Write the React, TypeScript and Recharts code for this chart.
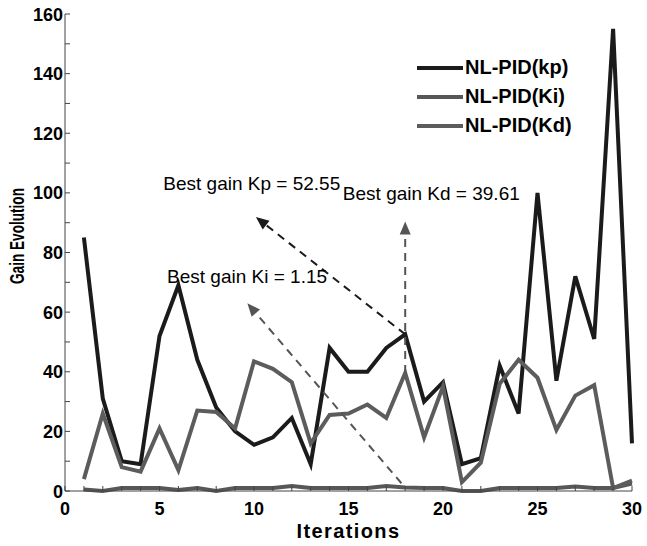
import React from 'react';
import {
  LineChart,
  Line,
  XAxis,
  YAxis,
  Legend,
  ReferenceLine,
  ReferenceDot,
} from 'recharts';

// iteration index (x)
const iterations = [
  1, 2, 3, 4, 5, 6, 7, 8, 9, 10, 11, 12, 13, 14, 15,
  16, 17, 18, 19, 20, 21, 22, 23, 24, 25, 26, 27, 28, 29, 30,
];

// gains
const kpValues = [
  85, 31, 10, 9, 52, 69, 44, 28, 20, 15.5, 18, 24.5, 9, 48, 40,
  40, 48, 52.55, 30, 36.5, 9, 11, 42, 26, 100, 37, 72, 51, 155, 16,
];
const kiValues = [
  0.5, 0, 1, 1, 1, 0.3, 1, 0, 1, 1, 1, 1.7, 1, 1, 1,
  1, 1.7, 1.15, 1, 1, 0, 0, 1, 1, 1, 1, 1.5, 1, 1, 2.5,
];
const kdValues = [
  4, 26, 8, 6.5, 21, 7, 27, 26.5, 21, 43.5, 41, 36.5, 16, 25.5, 26,
  29, 24.5, 39.61, 18, 35, 3, 9.5, 36, 44, 38, 20.5, 32, 35.5, 1, 3.5,
];

const xTicks = Array.from({ length: 31 }, (_, i) => i);
const yTicks = Array.from({ length: 17 }, (_, i) => i * 10);

const SERIES = [
  { key: 'kp', name: 'NL-PID(kp)', color: '#1b1b1b' },
  { key: 'ki', name: 'NL-PID(Ki)', color: '#575757' },
  { key: 'kd', name: 'NL-PID(Kd)', color: '#5c5c5c' },
];

// annotation arrows: from best point to label
const ARROWS = [
  { from: [18, 52.55], to: [10.1, 91.9], color: '#1b1b1b' },
  { from: [17.8, 2.6], to: [9.65, 63], color: '#555555' },
  { from: [18, 39.61], to: [18, 90.4], color: '#555555' },
];

const NOTES = [
  { x: 5.2, y: 101, text: 'Best gain Kp = 52.55' },
  { x: 5.4, y: 69.8, text: 'Best gain Ki = 1.15' },
  { x: 14.7, y: 97.7, text: 'Best gain Kd = 39.61' },
];

const data = iterations.map((it, i) => ({
  it,
  kp: kpValues[i],
  ki: kiValues[i],
  kd: kdValues[i],
}));

const FONT = 'Liberation Sans, Arial, sans-serif';

const BottomTick = ({ x, y, payload }: any) => (
  <g>
    <line x1={x} y1={y} x2={x} y2={y - 5} stroke="#444" />
    {payload.value % 5 === 0 && (
      <text x={x} y={y + 24} textAnchor="middle" fontSize={18} fontWeight="bold" fontFamily={FONT} fill="#000">
        {payload.value}
      </text>
    )}
  </g>
);

const TopTick = ({ x, y }: any) => <line x1={x} y1={y} x2={x} y2={y + 5} stroke="#444" />;

const LeftTick = ({ x, y, payload }: any) => (
  <g>
    <line x1={x} y1={y} x2={x + 5} y2={y} stroke="#444" />
    {payload.value % 20 === 0 && (
      <text x={x - 2} y={y + 6.5} textAnchor="end" fontSize={18} fontWeight="bold" fontFamily={FONT} fill="#000">
        {payload.value}
      </text>
    )}
  </g>
);

const RightTick = ({ x, y }: any) => <line x1={x} y1={y} x2={x - 5} y2={y} stroke="#444" />;

const arrowShape = (color: string) => (p: any) => {
  const { x1, y1, x2, y2 } = p;
  const ang = Math.atan2(y2 - y1, x2 - x1);
  const len = 13;
  const w = 5.5;
  const bx = x2 - len * Math.cos(ang);
  const by = y2 - len * Math.sin(ang);
  const px = -Math.sin(ang) * w;
  const py = Math.cos(ang) * w;
  return (
    <g>
      <line x1={x1} y1={y1} x2={bx} y2={by} stroke={color} strokeWidth={2} strokeDasharray="8 6" />
      <polygon points={`${x2},${y2} ${bx + px},${by + py} ${bx - px},${by - py}`} fill={color} />
    </g>
  );
};

const LegendBox = () => (
  <div style={{ fontFamily: FONT, fontWeight: 'bold', fontSize: 20, color: '#000' }}>
    {SERIES.map((s) => (
      <div key={s.key} style={{ display: 'flex', alignItems: 'center', height: 29 }}>
        <svg width={48} height={10}>
          <line x1={0} y1={5} x2={46} y2={5} stroke={s.color} strokeWidth={4} />
        </svg>
        <span>{s.name}</span>
      </div>
    ))}
  </div>
);

// condensed bold label, as in the source figure
const yLabel = () => (
  <text
    transform="translate(24,236) rotate(-90) scale(0.68,1)"
    textAnchor="middle"
    fontSize={20}
    fontWeight="bold"
    fontFamily={FONT}
    fill="#000"
  >
    Gain Evolution
  </text>
);

export default function App() {
  return (
    <div style={{ position: 'absolute', left: 0, top: 0, background: '#fff' }}>
      <LineChart width={647} height={546} data={data} margin={{ top: 14, right: 15, left: 0, bottom: 0 }}>
        <XAxis
          xAxisId="b"
          dataKey="it"
          type="number"
          domain={[0, 30]}
          ticks={xTicks}
          interval={0}
          height={55}
          tickSize={0}
          tickMargin={0}
          tickLine={false}
          tick={<BottomTick />}
          stroke="#444"
          label={{ value: 'Iterations', position: 'insideBottom', offset: 8, fontSize: 20, fontWeight: 'bold', fontFamily: FONT, fill: '#000', letterSpacing: 1.4 }}
        />
        <XAxis
          xAxisId="t"
          orientation="top"
          type="number"
          domain={[0, 30]}
          ticks={xTicks}
          interval={0}
          height={0}
          tickSize={0}
          tickMargin={0}
          tickLine={false}
          tick={<TopTick />}
          stroke="#444"
        />
        <YAxis
          yAxisId="l"
          type="number"
          domain={[0, 160]}
          ticks={yTicks}
          interval={0}
          width={65}
          tickSize={0}
          tickMargin={0}
          tickLine={false}
          tick={<LeftTick />}
          stroke="#444"
          label={yLabel}
        />
        <YAxis
          yAxisId="r"
          orientation="right"
          type="number"
          domain={[0, 160]}
          ticks={yTicks}
          interval={0}
          width={0}
          tickSize={0}
          tickMargin={0}
          tickLine={false}
          tick={<RightTick />}
          stroke="#444"
        />
        <Legend layout="vertical" align="center" verticalAlign="middle" content={<LegendBox />} wrapperStyle={{ position: 'absolute', left: 417, top: 53, width: 220 }} />

        {SERIES.map((s) => (
          <Line
            key={s.key}
            xAxisId="b"
            yAxisId="l"
            type="linear"
            dataKey={s.key}
            name={s.name}
            stroke={s.color}
            strokeWidth={4}
            dot={false}
            isAnimationActive={false}
          />
        ))}

        {ARROWS.map((a, i) => (
          <ReferenceLine
            key={i}
            xAxisId="b"
            yAxisId="l"
            segment={[
              { x: a.from[0], y: a.from[1] },
              { x: a.to[0], y: a.to[1] },
            ]}
            shape={arrowShape(a.color)}
          />
        ))}

        {NOTES.map((n, i) => (
          <ReferenceDot
            key={i}
            xAxisId="b"
            yAxisId="l"
            x={n.x}
            y={n.y}
            shape={(p: any) => (
              <text x={p.cx} y={p.cy} fontSize={19} fontFamily={FONT} fill="#000">
                {n.text}
              </text>
            )}
          />
        ))}
      </LineChart>
    </div>
  );
}
